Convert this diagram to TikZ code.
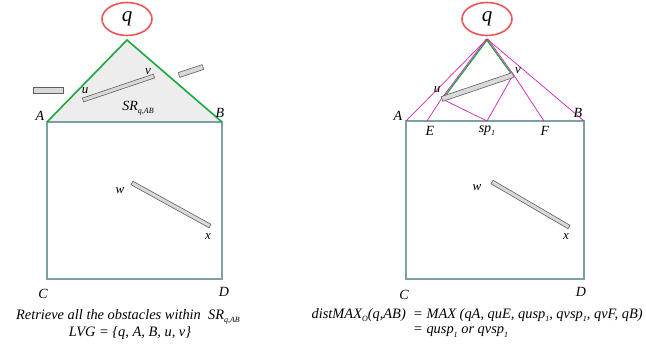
\documentclass[tikz,border=0pt]{standalone}
\usepackage{fontspec}
\setmainfont{Liberation Serif}
\usetikzlibrary{calc,shapes.geometric}
\definecolor{rectc}{HTML}{7F9FA3}
\definecolor{greenc}{HTML}{1AA83C}
\definecolor{magc}{HTML}{D21FB4}
\definecolor{redc}{HTML}{F05555}
\definecolor{obsfill}{HTML}{D9D9D9}
\definecolor{obsdraw}{HTML}{5E5E5E}
\definecolor{trifill}{HTML}{EDEDED}
\newcommand\lowsub[1]{\raisebox{-0.5ex}{\footnotesize #1}}
\newcommand\obstacle[3]{\filldraw[fill=obsfill, draw=obsdraw, line width=0.6pt]
  ($(#1)!#3!90:(#2)$) -- ($(#1)!#3!-90:(#2)$) -- ($(#2)!#3!90:(#1)$) -- ($(#2)!#3!-90:(#1)$) -- cycle;}
\begin{document}
\begin{tikzpicture}[x=1pt,y=-1pt, font=\itshape,
  region/.style={draw=rectc, line width=1.6pt},
  qell/.style={ellipse, draw=redc, line width=1.6pt, minimum width=50pt, minimum height=33pt, inner sep=0pt, font=\itshape\fontsize{21}{21}\selectfont},
  lbl/.style={inner sep=0pt, font=\itshape\fontsize{14}{14}\selectfont},
  slbl/.style={inner sep=0pt, font=\itshape\fontsize{13}{13}\selectfont},
  edgeg/.style={greenc, line width=1.6pt},
  ray/.style={magc, line width=0.7pt},
  captext/.style={inner sep=0pt, font=\itshape\fontsize{14.4}{14.4}\selectfont}]
\useasboundingbox (0,0) rectangle (646,349);
% ---------- left panel ----------
\coordinate (qL) at (127,40);
\coordinate (A1) at (47,122);
\coordinate (B1) at (222,122);
\coordinate (D1) at (222,279);
\fill[trifill] (qL) -- (A1) -- (B1) -- cycle;
\draw[region] (A1) rectangle (D1);
\draw[edgeg] (A1) -- (qL) -- (B1);
\node[qell] (qLe) at (127,19) {q};
\coordinate (o1a) at (33,90); \coordinate (o1b) at (63,90);
\obstacle{o1a}{o1b}{3pt}
\coordinate (u1) at (83,100); \coordinate (v1) at (154,76);
\obstacle{u1}{v1}{2pt}
\coordinate (o3a) at (179,75); \coordinate (o3b) at (203,67);
\obstacle{o3a}{o3b}{2.5pt}
\coordinate (w1) at (132,183); \coordinate (x1) at (210,226);
\obstacle{w1}{x1}{2pt}
\node[slbl] (lu1) at (85,91) {u};
\node[slbl] (lv1) at (148,72) {v};
\node[lbl] (lsr) at (138,108) {SR\lowsub{q,AB}};
\node[lbl] (lA1) at (40,116) {A};
\node[lbl] (lB1) at (220,113) {B};
\node[lbl] (lC1) at (43,294) {C};
\node[lbl] (lD1) at (224,292) {D};
\node[slbl] (lw1) at (120,191) {w};
\node[slbl] (lx1) at (208,237) {x};
\node[captext] (cap1) at (128,317) {Retrieve all the obstacles within\ \ SR\lowsub{q,AB}};
\node[captext] (cap2) at (130,333) {LVG = \{q, A, B, u, v\}};
% ---------- right panel ----------
\coordinate (qR) at (487,39);
\coordinate (A2) at (406,121);
\coordinate (B2) at (584,121);
\coordinate (D2) at (584,279);
\coordinate (u2) at (442,99);
\coordinate (v2) at (513,75);
\coordinate (E) at (427,121);
\coordinate (sp) at (487,121);
\coordinate (F) at (544,121);
\draw[region] (A2) rectangle (D2);
\draw[edgeg, line width=1.3pt] ([xshift=0.8pt]qR) -- ([xshift=0.8pt]u2);
\draw[edgeg, line width=1.3pt] ([xshift=-0.8pt]qR) -- ([xshift=-0.8pt]v2);
\draw[ray] (qR) -- (A2);
\draw[ray] (qR) -- (B2);
\draw[ray] ([xshift=-0.8pt]qR) -- ([xshift=-0.8pt]u2) -- (E);
\draw[ray] ([xshift=0.8pt]qR) -- ([xshift=0.8pt]v2) -- (F);
\draw[ray] (u2) -- (sp) -- (v2);
\node[qell] (qRe) at (487,19) {q};
\obstacle{u2}{v2}{2.5pt}
\coordinate (w2) at (492,182); \coordinate (x2) at (569,227);
\obstacle{w2}{x2}{2pt}
\node[slbl] (lu2) at (437,90) {u};
\node[slbl] (lv2) at (518,71) {v};
\node[lbl] (lA2) at (398,116) {A};
\node[lbl] (lB2) at (578,113) {B};
\node[lbl] (lE) at (430,131) {E};
\node[lbl] (lsp) at (487,131) {sp\lowsub{1}};
\node[lbl] (lF) at (545,131) {F};
\node[lbl] (lC2) at (404,295) {C};
\node[lbl] (lD2) at (581,292) {D};
\node[slbl] (lw2) at (477,188) {w};
\node[slbl] (lx2) at (566,237) {x};
\node[captext, anchor=east] (cap3) at (406,315) {distMAX\lowsub{O}(q,AB)};
\node[captext, anchor=west] (cap4) at (413,315) {= MAX (qA, quE, qusp\lowsub{1}, qvsp\lowsub{1}, qvF, qB)};
\node[captext, anchor=west] (cap5) at (413,332) {= qusp\lowsub{1} or qvsp\lowsub{1}};
\end{tikzpicture}
\end{document}
